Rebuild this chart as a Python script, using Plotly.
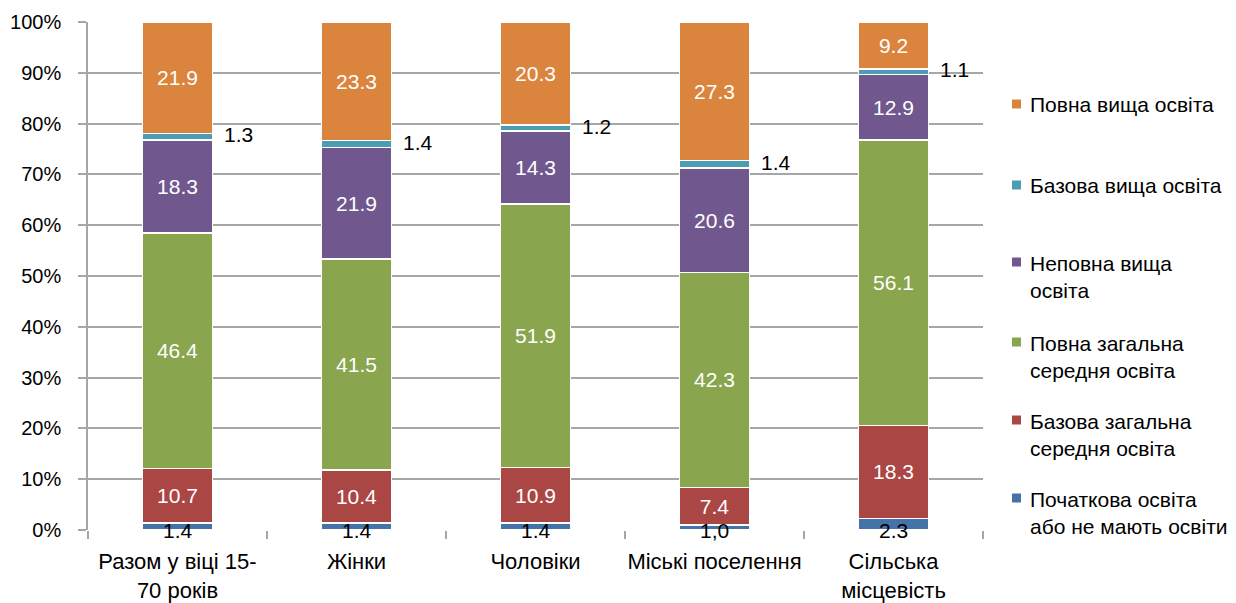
import plotly.graph_objects as go

categories = ["Разом у віці 15-<br>70 років", "Жінки", "Чоловіки",
              "Міські поселення", "Сільська<br>місцевість"]

# series from bottom to top of the stack
series_names = [
    "Початкова освіта<br>або не мають освіти",
    "Базова загальна<br>середня освіта",
    "Повна загальна<br>середня освіта",
    "Неповна вища<br>освіта",
    "Базова вища освіта",
    "Повна вища освіта",
]
primary = [1.4, 1.4, 1.4, 1.0, 2.3]
basic_secondary = [10.7, 10.4, 10.9, 7.4, 18.3]
full_secondary = [46.4, 41.5, 51.9, 42.3, 56.1]
incomplete_higher = [18.3, 21.9, 14.3, 20.6, 12.9]
basic_higher = [1.3, 1.4, 1.2, 1.4, 1.1]
full_higher = [21.9, 23.3, 20.3, 27.3, 9.2]
primary_labels = ["1.4", "1.4", "1.4", "1,0", "2.3"]
y_ticks = list(range(0, 101, 10))

series_values = [primary, basic_secondary, full_secondary,
                 incomplete_higher, basic_higher, full_higher]
colors = ["#4572A7", "#AA4643", "#89A54E", "#70588F", "#4A9DB3", "#DB843D"]
inside_label = [False, True, True, True, False, True]

FONT = "Liberation Sans, Arial, sans-serif"
NUM_FS = 21
TXT_FS = 22

# page has an 8px body margin, so plot area 88..983 x 22..530 on screen
L, T, R, B = 80, 14, 261, 81
PW, PH = 1236 - L - R, 603 - T - B


def px_x(x):
    return (x - 8 - L) / PW


def px_y(y):
    return (603 - B - (y - 8)) / PH


fig = go.Figure()
for name, vals, col, lab in zip(series_names, series_values, colors, inside_label):
    fig.add_trace(go.Bar(
        x=categories,
        y=vals,
        name=name,
        marker=dict(color=col, line=dict(color="white", width=1.5)),
        text=[f"{v:.1f}" for v in vals] if lab else None,
        textposition="inside" if lab else "none",
        insidetextanchor="middle",
        textangle=0,
        constraintext="none",
        textfont=dict(color="white", size=NUM_FS, family=FONT),
        showlegend=False,
    ))

# labels for thin segments
annotations = []
for i, cat in enumerate(categories):
    total = sum(s[i] for s in series_values)
    annotations.append(dict(
        x=cat, y=0, text=primary_labels[i], showarrow=False,
        yanchor="middle", yshift=0, font=dict(size=NUM_FS, color="black", family=FONT),
    ))
    below = sum(s[i] for s in series_values[:4])
    mid = (below + basic_higher[i] / 2) / total * 100
    annotations.append(dict(
        x=cat, y=mid, text=f"{basic_higher[i]:.1f}", showarrow=False,
        xanchor="left", yanchor="middle", xshift=44, yshift=2,
        font=dict(size=NUM_FS, color="black", family=FONT),
    ))

# legend drawn on the right, top item = top of the stack
legend_y = [104, 185, 277, 357, 435, 513]
shapes = []
for k, idx in enumerate(range(5, -1, -1)):
    name = series_names[idx]
    ypix = legend_y[k]
    two_lines = "<br>" in name
    ysq = px_y(ypix - 15 if two_lines else ypix)
    annotations.append(dict(
        xref="paper", yref="paper", x=px_x(1028), y=px_y(ypix),
        text=name, showarrow=False, xanchor="left", yanchor="middle", align="left",
        font=dict(size=21, color="black", family=FONT),
    ))
    shapes.append(dict(
        type="rect", xref="paper", yref="paper",
        x0=px_x(1012), x1=px_x(1021),
        y0=ysq - 4.5 / PH, y1=ysq + 4.5 / PH,
        fillcolor=colors[idx], line=dict(width=0),
    ))

fig.update_layout(
    barmode="stack",
    barnorm="percent",
    bargap=0.61,
    width=1236,
    height=603,
    margin=dict(l=L, r=R, t=T, b=B, autoexpand=False),
    plot_bgcolor="white",
    paper_bgcolor="white",
    font=dict(family=FONT, size=TXT_FS, color="black"),
    annotations=annotations,
    shapes=shapes,
    xaxis=dict(
        tickson="boundaries", ticks="outside", ticklen=8, tickcolor="#A6A6A6",
        tickwidth=1.5, showgrid=False, showline=False, tickangle=0,
        automargin=False, ticklabelstandoff=16,
        tickfont=dict(size=TXT_FS, family=FONT),
    ),
    yaxis=dict(
        range=[0, 100], tickmode="array", tickvals=y_ticks,
        ticktext=[f"{v}%" for v in y_ticks],
        ticks="outside", ticklen=8, tickcolor="#A6A6A6", tickwidth=1.5,
        showgrid=True, gridcolor="#A6A6A6", gridwidth=1.5,
        showline=True, linecolor="#A6A6A6", linewidth=1.5,
        zeroline=False, ticklabelstandoff=13, automargin=False,
        tickfont=dict(size=20, family=FONT),
    ),
)

fig.write_html("out.html")
